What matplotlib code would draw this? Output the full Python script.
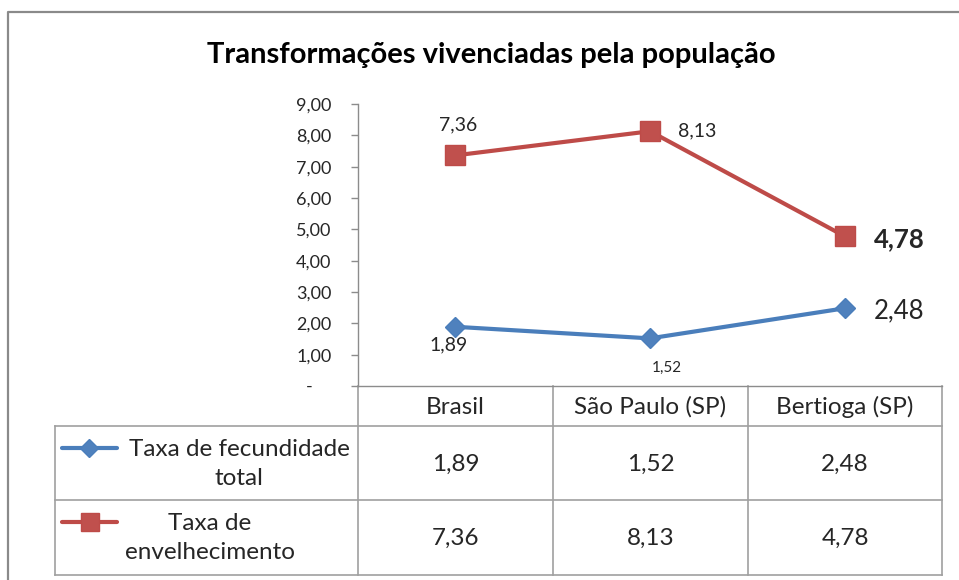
import matplotlib
matplotlib.use("Agg")
import matplotlib.pyplot as plt
from matplotlib.lines import Line2D

plt.rcParams['font.family'] = ['Lato', 'DejaVu Sans']

# ---- data ----
categories = ["Brasil", "São Paulo (SP)", "Bertioga (SP)"]
series_names = ["Taxa de fecundidade\ntotal", "Taxa de\nenvelhecimento"]
fecundidade = [1.89, 1.52, 2.48]
envelhecimento = [7.36, 8.13, 4.78]
yticks = [0, 1, 2, 3, 4, 5, 6, 7, 8, 9]
title = "Transformações vivenciadas pela população"

BLUE = "#4A7EBB"
RED = "#BE4B48"
GRID = "#8C8C8C"
TXT = "#262626"

def fmt(v):
    return f"{v:.2f}".replace(".", ",")

W, H = 959, 580
fig = plt.figure(figsize=(W / 100, H / 100), dpi=100)

# overlay axes in pixel coordinates
ov = fig.add_axes([0, 0, 1, 1])
ov.set_xlim(0, W)
ov.set_ylim(H, 0)
ov.axis("off")

# outer frame
ov.plot([8, 8, W + 5], [H + 5, 12, 12], color="#8A8A8A", lw=1.6, solid_capstyle="butt")

# title
ov.text(491, 55, title, ha="center", va="center", fontsize=21, fontweight="bold", color="black")

# main axes
L, R, T, B = 358, 942, 104, 386
ax = fig.add_axes([L / W, (H - B) / H, (R - L) / W, (B - T) / H])
ax.set_xlim(-0.5, len(categories) - 0.5)
ax.set_ylim(0, 9)
ax.patch.set_alpha(0)
for s in ["top", "right"]:
    ax.spines[s].set_visible(False)
for s in ["left", "bottom"]:
    ax.spines[s].set_color(GRID)
    ax.spines[s].set_linewidth(1.0)
ax.set_yticks(yticks)
ax.set_yticklabels([fmt(v) if v != 0 else "-    " for v in yticks])
ax.tick_params(axis="y", direction="out", length=5, width=1, color=GRID,
               labelsize=13, labelcolor=TXT, pad=14)
ax.set_xticks([])

x = list(range(len(categories)))
ax.plot(x, envelhecimento, color=RED, lw=3, marker="s", markersize=15,
        markerfacecolor="#C0504D", markeredgecolor=RED, clip_on=False, zorder=3)
ax.plot(x, fecundidade, color=BLUE, lw=3, marker="D", markersize=10,
        markerfacecolor="#4F81BD", markeredgecolor=BLUE, clip_on=False, zorder=3)

# data labels (offsets in points)
def lab(i, v, dx, dy, size, weight="normal"):
    ax.annotate(fmt(v), (x[i], v), xytext=(dx, dy), textcoords="offset points",
                ha="center", va="center", fontsize=size, fontweight=weight, color=TXT)

lab(0, envelhecimento[0], 2, 22, 14)
lab(1, envelhecimento[1], 34, 0, 14)
lab(2, envelhecimento[2], 39, -2, 18.5, "bold")
lab(0, fecundidade[0], -5, -13, 14)
lab(1, fecundidade[1], 12, -21, 11)
lab(2, fecundidade[2], 39, -1.5, 18.5)

# data table
colx = [358, 553, 748, 942]
row_y = [386, 426, 500, 575]
leg_left = 55
lc = "#A0A0A0"
lw = 1.2
for ry in row_y[1:]:
    ov.plot([leg_left, colx[-1]], [ry, ry], color=lc, lw=lw)
for cx in colx:
    ov.plot([cx, cx], [row_y[0], row_y[3]], color=lc, lw=lw)
ov.plot([leg_left, leg_left], [row_y[1], row_y[3]], color=lc, lw=lw)

tsize = 17.5
for j, c in enumerate(categories):
    cx = (colx[j] + colx[j + 1]) / 2
    ov.text(cx, (row_y[0] + row_y[1]) / 2 + 1, c, ha="center", va="center", fontsize=tsize, color=TXT)

values = [fecundidade, envelhecimento]
for r, vals in enumerate(values):
    cy = (row_y[r + 1] + row_y[r + 2]) / 2
    for j, v in enumerate(vals):
        cx = (colx[j] + colx[j + 1]) / 2
        ov.text(cx, cy + 1, fmt(v), ha="center", va="center", fontsize=tsize, color=TXT)

# legend keys and names
ov.add_line(Line2D([62, 117], [448, 448], color=BLUE, lw=3, solid_capstyle="round"))
ov.add_line(Line2D([89], [448], marker="D", markersize=9, color=BLUE,
                   markerfacecolor="#4F81BD", markeredgecolor=BLUE))
ov.add_line(Line2D([62, 117], [522, 522], color=RED, lw=3, solid_capstyle="round"))
ov.add_line(Line2D([90], [522], marker="s", markersize=13, color=RED,
                   markerfacecolor="#C0504D", markeredgecolor=RED))
ov.text(239, 464, series_names[0], ha="center", va="center", fontsize=tsize,
        color=TXT, linespacing=1.5, multialignment="center")
ov.text(210, 538, series_names[1], ha="center", va="center", fontsize=tsize,
        color=TXT, linespacing=1.5, multialignment="center")

fig.savefig("out.png", dpi=100)
